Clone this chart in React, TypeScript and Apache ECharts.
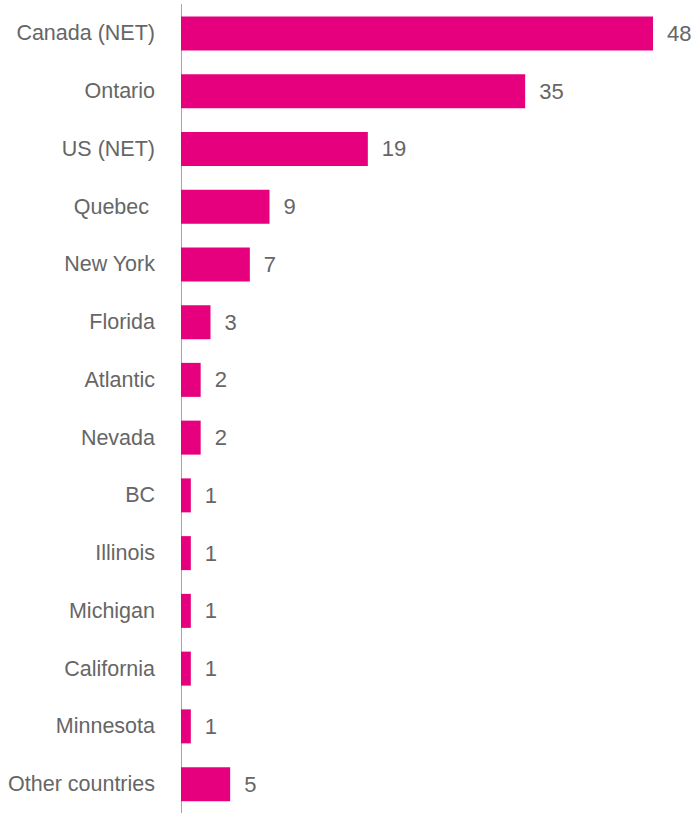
import React, { useEffect, useRef } from "react";
import * as echarts from "echarts";

const categories = [
  "Canada (NET)",
  "Ontario",
  "US (NET)",
  "Quebec ",
  "New York",
  "Florida",
  "Atlantic",
  "Nevada",
  "BC",
  "Illinois",
  "Michigan",
  "California",
  "Minnesota",
  "Other countries",
];
const values = [48, 35, 19, 9, 7, 3, 2, 2, 1, 1, 1, 1, 1, 5];

export default function App() {
  const ref = useRef<HTMLDivElement>(null);
  useEffect(() => {
    if (!ref.current) return;
    const chart = echarts.init(ref.current, undefined, { renderer: "svg" });
    chart.setOption({
      animation: false,
      backgroundColor: "#ffffff",
      grid: { left: 181, top: 4.5, width: 472, height: 811, containLabel: false },
      xAxis: {
        type: "value",
        min: 0,
        max: 48,
        show: false,
      },
      yAxis: {
        type: "category",
        inverse: true,
        data: categories,
        axisLine: { show: true, lineStyle: { color: "#a6a6a6", width: 1 } },
        axisTick: { show: false },
        axisLabel: {
          margin: 26,
          color: "#666666",
          fontSize: 21.5,
          fontFamily: "'Liberation Sans', Arial, sans-serif",
        },
      },
      series: [
        {
          type: "bar",
          data: values,
          barWidth: 34,
          itemStyle: { color: "#E6007E" },
          label: {
            show: true,
            position: "right",
            distance: 14,
            color: "#666666",
            fontSize: 22,
            fontFamily: "'Liberation Sans', Arial, sans-serif",
          },
        },
      ],
    });
    return () => chart.dispose();
  }, []);
  return (
    <div
      ref={ref}
      style={{ position: "fixed", left: 0, top: 0, width: 700, height: 813 }}
    />
  );
}
